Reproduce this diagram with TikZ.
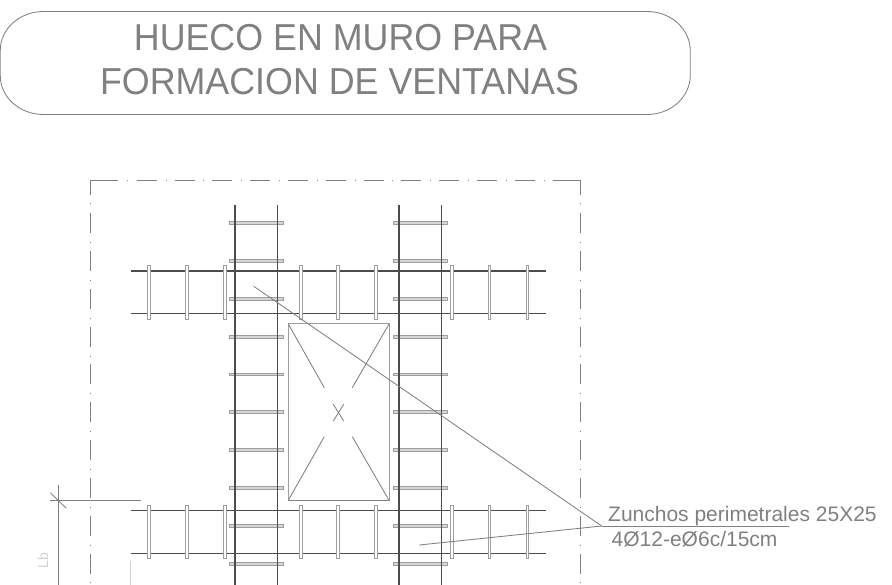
\documentclass[tikz,border=0pt]{standalone}
\usepackage{fontspec}
\setmainfont{Liberation Sans}
\newfontfamily\titlefont[FakeStretch=0.955]{Liberation Sans}
\definecolor{cline}{gray}{0.5}
\definecolor{cdark}{gray}{0.3}
\definecolor{cwin}{gray}{0.62}
\definecolor{cfill}{gray}{0.84}
\definecolor{clight}{gray}{0.82}
\tikzset{
  frameline/.style={draw=cline,line width=1pt},
  framedash/.style={frameline,dash pattern=on 20pt off 8.9pt on 1pt off 7.9pt},
  bar/.style={draw=cdark,line width=1.1pt},
  vstirrup/.style={draw=cwin,fill=white,line width=1pt},
  hstirrup/.style={draw=cwin,fill=cfill,line width=1pt},
  thinline/.style={draw=cline,line width=0.85pt},
  labeltext/.style={text=cline,inner sep=0pt,anchor=base west,font=\fontsize{21}{21}\selectfont},
  titletext/.style={text=cline,inner sep=0pt,anchor=base,font=\titlefont\fontsize{37.5}{37.5}\selectfont},
}
\begin{document}
\begin{tikzpicture}[x=1pt,y=-1pt]
\useasboundingbox (0,0) rectangle (892,585);
\clip (0,0) rectangle (892,585);
% title box
\draw[thinline] (43.5,11.5) -- (647,11.5)
  .. controls (671,11.5) and (690.3,29) .. (690.3,51)
  -- (690.3,75)
  .. controls (690.3,97) and (671,114.5) .. (647,114.5)
  -- (43.5,114.5)
  .. controls (19.5,114.5) and (0.3,97) .. (0.3,76)
  -- (0.3,50)
  .. controls (0.3,29) and (19.5,11.5) .. (43.5,11.5) -- cycle;
\node[titletext] (t1) at (340.5,50.8) {HUECO EN MURO PARA};
\node[titletext] (t2) at (339.5,94.4) {FORMACION DE VENTANAS};
% frame
\draw[frameline] (90.7,195) -- (90.7,181) -- (118.3,181);
\draw[frameline] (552.7,181) -- (580.7,181) -- (580.7,195);
\draw[frameline] (127,181) -- (128,181);
\draw[framedash] (136.7,181) -- (552.7,181);
\draw[frameline] (90.7,203.5) -- (90.7,204.5);
\draw[frameline] (580.7,203.5) -- (580.7,204.5);
\draw[framedash] (90.7,213.3) -- (90.7,590);
\draw[framedash] (580.7,213.3) -- (580.7,590);
% horizontal main bars
\foreach \y in {271,313.7,510.7,553.3}
  \draw[bar] (130.7,\y) -- (545.7,\y);
% stirrups of horizontal beams
\foreach \x in {149.3,187,225,300.7,338.3,376,451.7,489.5,527.5}{
  \draw[vstirrup] (\x-1.4,265.7) rectangle (\x+1.4,319.3);
  \draw[vstirrup] (\x-1.4,505.2) rectangle (\x+1.4,558.8);
}
% stirrups of vertical beams
\foreach \y in {223,261,299,336.7,374.5,412.3,450,488,526,563.7}{
  \draw[hstirrup] (229.5,\y-1.4) rectangle (283.5,\y+1.4);
  \draw[hstirrup] (393.5,\y-1.4) rectangle (447.3,\y+1.4);
}
% vertical main bars
\foreach \x in {235,277.7,399,441.7}
  \draw[bar] (\x,205) -- (\x,590);
% window
\node[draw=cwin,line width=1pt,minimum width=100.7pt,minimum height=176.3pt,inner sep=0pt,outer sep=0pt,anchor=north west] (win) at (288.3,324) {};
\draw[thinline] (win.north west) -- (324.3,387.7);
\draw[thinline] (win.north east) -- (352.3,387.7);
\draw[thinline] (win.south west) -- (324.3,436.7);
\draw[thinline] (win.south east) -- (352.3,436.7);
\draw[thinline] (win.south west) -- (win.south east);
\draw[thinline] (333.3,404.3) -- (343.7,421);
\draw[thinline] (343.7,404.3) -- (333.3,421);
% leaders
\coordinate (land) at (601.7,526);
\coordinate (landend) at (788.7,526);
\coordinate (tipA) at (253.7,286.3);
\coordinate (tipB) at (419.3,545);
\draw[thinline] (tipA) -- (land);
\draw[thinline] (tipB) -- (land);
\draw[thinline] (land) -- (landend);
\node[labeltext] (z1) at (608,521) {Zunchos perimetrales 25X25};
\node[labeltext] (z2) at (611.5,546) {4Ø12-eØ6c/15cm};
% dimension Lb
\draw[thinline] (58.3,485) -- (58.3,590);
\draw[thinline] (50,500.3) -- (140.7,500.3);
\draw[thinline] (50.3,492.7) -- (66.3,508.3);
\draw[draw=clight,line width=1pt] (130.7,560.7) -- (130.7,590);
\node[text=clight,inner sep=0pt,rotate=90,anchor=base,font=\fontsize{14}{14}\selectfont] (lb) at (48,560.5) {Lb};
\end{tikzpicture}
\end{document}
